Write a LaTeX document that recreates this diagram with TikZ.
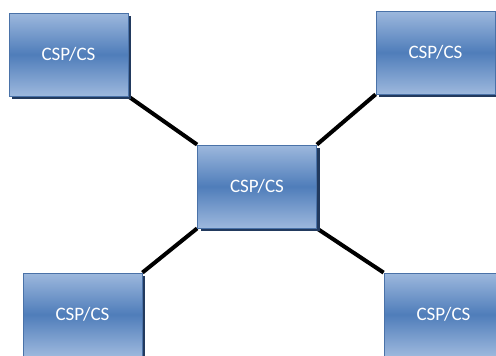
\documentclass[tikz,border=0pt]{standalone}
\usepackage{fontspec}
\setmainfont{Carlito}
\usetikzlibrary{shadows,backgrounds}
\definecolor{boxlight}{HTML}{9DB8DD}
\definecolor{boxdark}{HTML}{4F7DBA}
\definecolor{boxborder}{HTML}{4A72A8}
\definecolor{boxshadow}{HTML}{223A5E}
\tikzset{
  cspbox/.style={draw=boxborder, line width=0.8pt, top color=boxlight, bottom color=boxlight, middle color=boxdark,
    minimum width=119pt, minimum height=83pt, inner sep=0pt, text=white, font=\fontsize{19}{22}\selectfont,
    drop shadow={shadow xshift=3pt, shadow yshift=-3pt, fill=boxshadow, opacity=1}},
  link/.style={line width=4pt, black}
}
\begin{document}
\begin{tikzpicture}[x=1pt,y=-1pt]
\useasboundingbox (0,0) rectangle (496,356);
\node[cspbox] (tl) at (68.5,54.5) {CSP/CS};
\node[cspbox] (tr) at (435.5,52.5) {CSP/CS};
\node[cspbox] (c) at (257,186.5) {CSP/CS};
\node[cspbox] (bl) at (82.5,314.5) {CSP/CS};
\node[cspbox] (br) at (443.5,314.5) {CSP/CS};
\begin{scope}[on background layer]
\draw[link] (tl.south east) -- (c.north west);
\draw[link] (tr.south west) -- (c.north east);
\draw[link] (bl.north east) -- (c.south west);
\draw[link] (br.north west) -- (c.south east);
\end{scope}
\end{tikzpicture}
\end{document}
